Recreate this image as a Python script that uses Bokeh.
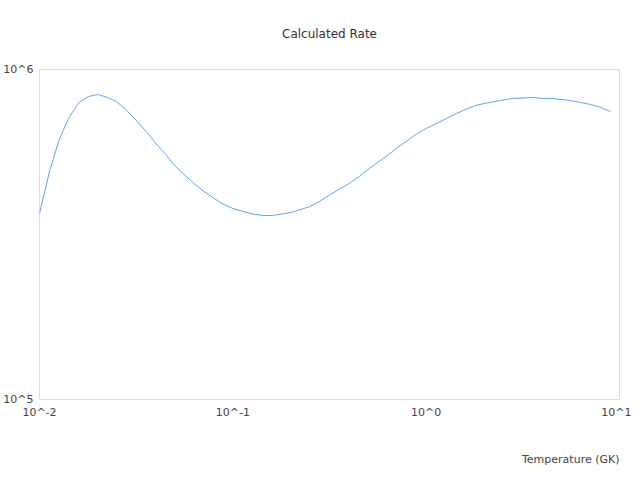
from bokeh.plotting import figure
from bokeh.models import FixedTicker, CustomJSTickFormatter, Title
from bokeh.embed import file_html
from bokeh.resources import INLINE

temperature_gk = [0.010, 0.0113, 0.0127, 0.0143, 0.016, 0.018, 0.020, 0.0225, 0.025, 0.028,
                  0.032, 0.036, 0.040, 0.045, 0.050, 0.056, 0.063, 0.071, 0.080, 0.090,
                  0.100, 0.113, 0.127, 0.143, 0.160, 0.180, 0.200, 0.225, 0.250, 0.280,
                  0.320, 0.360, 0.400, 0.450, 0.500, 0.560, 0.630, 0.710, 0.800, 0.900,
                  1.00, 1.13, 1.27, 1.43, 1.60, 1.80, 2.00, 2.25, 2.50, 2.80,
                  3.20, 3.60, 4.00, 4.50, 5.00, 5.60, 6.30, 7.10, 8.00, 9.00]
rate = [3.661e5, 4.942e5, 6.177e5, 7.203e5, 7.943e5, 8.283e5, 8.399e5, 8.225e5, 7.998e5, 7.564e5,
        6.959e5, 6.445e5, 5.967e5, 5.526e5, 5.118e5, 4.805e5, 4.513e5, 4.268e5, 4.065e5, 3.898e5,
        3.791e5, 3.713e5, 3.648e5, 3.611e5, 3.611e5, 3.648e5, 3.687e5, 3.765e5, 3.844e5, 3.981e5,
        4.180e5, 4.359e5, 4.513e5, 4.739e5, 4.977e5, 5.226e5, 5.487e5, 5.801e5, 6.092e5, 6.398e5,
        6.624e5, 6.860e5, 7.103e5, 7.356e5, 7.564e5, 7.779e5, 7.888e5, 7.998e5, 8.083e5, 8.168e5,
        8.197e5, 8.225e5, 8.168e5, 8.168e5, 8.111e5, 8.055e5, 7.943e5, 7.833e5, 7.671e5, 7.460e5]

x_ticks = [0.01, 0.1, 1, 10]
y_ticks = [1e5, 1e6]
title_text = "Calculated Rate"
x_label = "Temperature (GK)"

FONT = "DejaVu Sans"
TEXT_COLOR = "#444444"

p = figure(frame_width=580, frame_height=330, x_axis_type="log", y_axis_type="log",
           x_range=(0.01, 10), y_range=(1e5, 1e6),
           output_backend="svg", toolbar_location=None,
           min_border_left=0, min_border_right=12, min_border_top=0, min_border_bottom=0)

t = Title(text=title_text, align="center", vertical_align="top", text_font=FONT,
          text_font_size="12px", text_font_style="normal", text_color="#333333", standoff=53)
p.add_layout(t, "above")

xl = Title(text=x_label, align="right", text_font=FONT, text_font_size="11px",
           text_font_style="normal", text_color=TEXT_COLOR, standoff=58)
p.add_layout(xl, "below")

p.line(temperature_gk, rate, line_color="#5da5f2", line_width=1)

p.xgrid.visible = False
p.ygrid.visible = False
p.outline_line_color = "#dddddd"
p.outline_line_width = 1
p.background_fill_color = "white"
p.border_fill_color = "white"

fmt = CustomJSTickFormatter(code="return '10^' + Math.round(Math.log10(tick));")
for ax, ticks in ((p.xaxis[0], x_ticks), (p.yaxis[0], y_ticks)):
    ax.ticker = FixedTicker(ticks=ticks, minor_ticks=[])
    ax.formatter = fmt
    ax.axis_line_color = None
    ax.major_tick_line_color = None
    ax.minor_tick_line_color = None
    ax.major_tick_out = 0
    ax.major_tick_in = 0
    ax.minor_tick_out = 0
    ax.minor_tick_in = 0
    ax.major_label_text_font = FONT
    ax.major_label_text_font_size = "11px"
    ax.major_label_text_color = TEXT_COLOR
    ax.major_label_standoff = 6

open("out.html", "w").write(file_html(p, INLINE))
